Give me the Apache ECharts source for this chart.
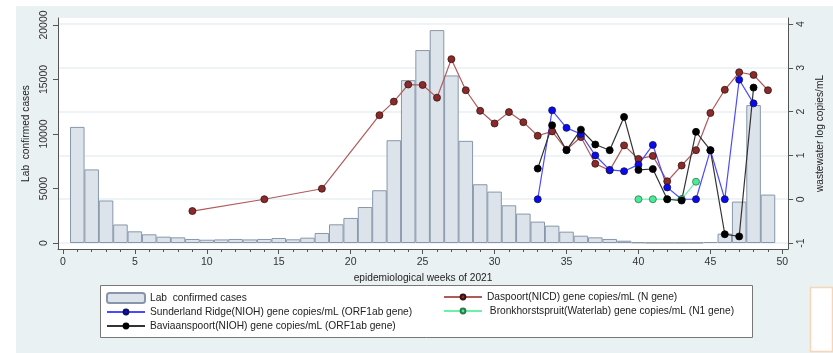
<!DOCTYPE html>
<html>
<head>
<meta charset="utf-8">
<script src="https://cdn.jsdelivr.net/npm/echarts@6/dist/echarts.min.js"></script>
<style>
  html, body { margin: 0; padding: 0; background: #fff; }
  #chart { width: 833px; height: 353px; }
</style>
</head>
<body>
<div id="chart"></div>
<script>
// weekly lab confirmed cases, weeks 1..49
const caseWeeks = [1,2,3,4,5,6,7,8,9,10,11,12,13,14,15,16,17,18,19,20,21,22,23,24,25,
  26,27,28,29,30,31,32,33,34,35,36,37,38,39,40,41,42,43,44,45,46,47,48,49]
const cases = [10650,6750,3900,1700,1070,800,580,520,370,300,330,370,330,370,460,340,490,920,1715,2300,3300,4840,9430,14940,17700,
  19530,15370,9370,5390,4715,3460,2700,1960,1590,1040,670,520,370,210,60,30,30,30,30,90,860,3800,12650,4440]

// wastewater log copies/mL
const daspoortWeeks = [9,14,18,22,23,24,25,26,27,28,29,30,31,32,33,34,35,36,37,38,39,40,41,42,43,44,45,46,47,48,49]
const daspoort = [-0.27,0.0,0.24,1.92,2.23,2.62,2.61,2.32,3.2,2.49,2.02,1.73,1.99,1.76,1.45,1.55,1.13,1.42,0.81,0.66,1.23,0.92,0.99,0.41,0.77,1.12,1.97,2.5,2.9,2.84,2.49]

const sunderlandWeeks = [33,34,35,36,37,38,39,40,41,42,43,44,45,46,47,48]
const sunderland = [0,2.03,1.63,1.49,1.0,0.67,0.64,0.79,1.24,0.27,0.0,0.0,1.12,0.0,2.73,2.19]

const bronkWeeks = [40,41,42,43,44]
const bronk = [0,0,0,0,0.4]

const baviaanWeeks = [33,34,35,36,37,38,39,40,41,42,43,44,45,46,47,48]
const baviaan = [0.7,1.69,1.12,1.59,1.25,1.12,1.88,0.67,0.69,0,-0.03,1.54,1.12,-0.8,-0.85,2.55]

const xTicks = [0,5,10,15,20,25,30,35,40,45,50]
const xMinorTicks = []
for (let i = 0; i <= 50; i++) xMinorTicks.push(i)
const leftTicks = [0,5000,10000,15000,20000]
const rightTicks = [-1,0,1,2,3,4]

const pairs = (xs, ys) => xs.map((x, i) => [x, ys[i]])

const font = '"Liberation Sans", Arial, sans-serif'
const axisColor = '#555'

const lineSeries = (name, xs, ys, fill, line, border) => ({
  name: name,
  type: 'line',
  xAxisIndex: 0,
  yAxisIndex: 1,
  data: pairs(xs, ys),
  symbol: 'circle',
  symbolSize: 7,
  itemStyle: { color: fill, borderColor: border, borderWidth: 0.8 },
  lineStyle: { color: line, width: 1.2 },
  emphasis: { disabled: true },
  z: 3
})

const legendBase = {
  orient: 'vertical', padding: 0,
  itemWidth: 38, itemGap: 4,
  textStyle: { fontSize: 10.2, color: '#222', fontFamily: font },
  selectedMode: false
}

const chart = echarts.init(document.getElementById('chart'), null, { renderer: 'canvas' })

chart.setOption({
  animation: false,
  backgroundColor: '#fff',
  textStyle: { fontFamily: font },
  graphic: [
    { type: 'rect', z: -10, silent: true, shape: { x: 16, y: 6, width: 817, height: 347 }, style: { fill: '#eaf1f3' } },
    { type: 'rect', z: 0, silent: true, shape: { x: 100.5, y: 285.5, width: 652, height: 52 }, style: { fill: '#fff', stroke: '#777', lineWidth: 1 } },
    { type: 'rect', z: 0, silent: true, shape: { x: 810.5, y: 287.5, width: 22, height: 64 }, style: { fill: '#fff', stroke: '#f6d6b8', lineWidth: 1.5 } }
  ],
  grid: {
    left: 58, top: 18, right: 36, bottom: 104,
    show: true, backgroundColor: '#fff', borderWidth: 0
  },
  legend: [
    Object.assign({}, legendBase, {
      left: 106, top: 292, itemHeight: 10,
      data: ['Lab  confirmed cases']
    }),
    Object.assign({}, legendBase, {
      left: 106, top: 307, itemHeight: 6,
      data: ['Sunderland Ridge(NIOH) gene copies/mL (ORF1ab gene)',
        'Baviaanspoort(NIOH) gene copies/mL (ORF1ab gene)']
    }),
    Object.assign({}, legendBase, {
      left: 443, top: 292, itemHeight: 6,
      data: ['Daspoort(NICD) gene copies/mL (N gene)',
        ' Bronkhorstspruit(Waterlab) gene copies/mL (N1 gene)']
    })
  ],
  xAxis: [
    {
      type: 'value', min: -0.34, max: 50.4,
      name: 'epidemiological weeks of 2021', nameLocation: 'middle', nameGap: 17,
      nameTextStyle: { fontSize: 10.2, color: '#222' },
      axisLine: { onZero: false, lineStyle: { color: axisColor } },
      axisTick: { length: 5, lineStyle: { color: axisColor }, customValues: xTicks },
      axisLabel: { fontSize: 10.5, color: '#333', margin: 8, customValues: xTicks },
      splitLine: { show: false }
    },
    {
      type: 'value', min: -0.34, max: 50.4, position: 'bottom',
      axisLine: { show: false, onZero: false },
      axisTick: { length: 3, lineStyle: { color: axisColor }, customValues: xMinorTicks },
      axisLabel: { show: false },
      splitLine: { show: false }
    }
  ],
  yAxis: [
    {
      type: 'value', min: -550, max: 20640, position: 'left',
      name: 'Lab  confirmed cases', nameLocation: 'middle', nameGap: 24,
      nameTextStyle: { fontSize: 10.2, color: '#222' },
      axisLine: { show: true, onZero: false, lineStyle: { color: axisColor } },
      axisTick: { show: true, length: 5, lineStyle: { color: axisColor }, customValues: leftTicks },
      axisLabel: { fontSize: 10.5, color: '#333', rotate: 90, margin: 8, customValues: leftTicks, formatter: v => String(v) },
      splitLine: { show: false }
    },
    {
      type: 'value', min: -1.137, max: 4.14, position: 'right',
      name: 'wastewater log copies/mL', nameLocation: 'middle', nameGap: 20,
      nameRotate: 90,
      nameTextStyle: { fontSize: 10.2, color: '#222' },
      axisLine: { show: true, onZero: false, lineStyle: { color: axisColor } },
      axisTick: { show: true, length: 5, lineStyle: { color: axisColor }, customValues: rightTicks },
      axisLabel: { fontSize: 10.5, color: '#333', rotate: 90, margin: 8, customValues: rightTicks },
      splitLine: { show: true, lineStyle: { color: '#e9f0f3', width: 1.5 } }
    }
  ],
  series: [
    {
      name: 'Lab  confirmed cases',
      type: 'bar',
      xAxisIndex: 0,
      yAxisIndex: 0,
      data: pairs(caseWeeks, cases),
      barWidth: 14.56,
      itemStyle: { color: '#dde3ea', borderColor: '#8797ab', borderWidth: 1 },
      emphasis: { disabled: true },
      z: 2
    },
    lineSeries('Daspoort(NICD) gene copies/mL (N gene)', daspoortWeeks, daspoort, '#8a2b2b', '#b05a5a', '#3a1010'),
    lineSeries('Sunderland Ridge(NIOH) gene copies/mL (ORF1ab gene)', sunderlandWeeks, sunderland, '#0a0aee', '#4a4aff', '#101050'),
    lineSeries(' Bronkhorstspruit(Waterlab) gene copies/mL (N1 gene)', bronkWeeks, bronk, '#4ee89a', '#6cf0aa', '#2a7a4a'),
    lineSeries('Baviaanspoort(NIOH) gene copies/mL (ORF1ab gene)', baviaanWeeks, baviaan, '#000', '#333', '#000')
  ]
})
</script>
</body>
</html>
